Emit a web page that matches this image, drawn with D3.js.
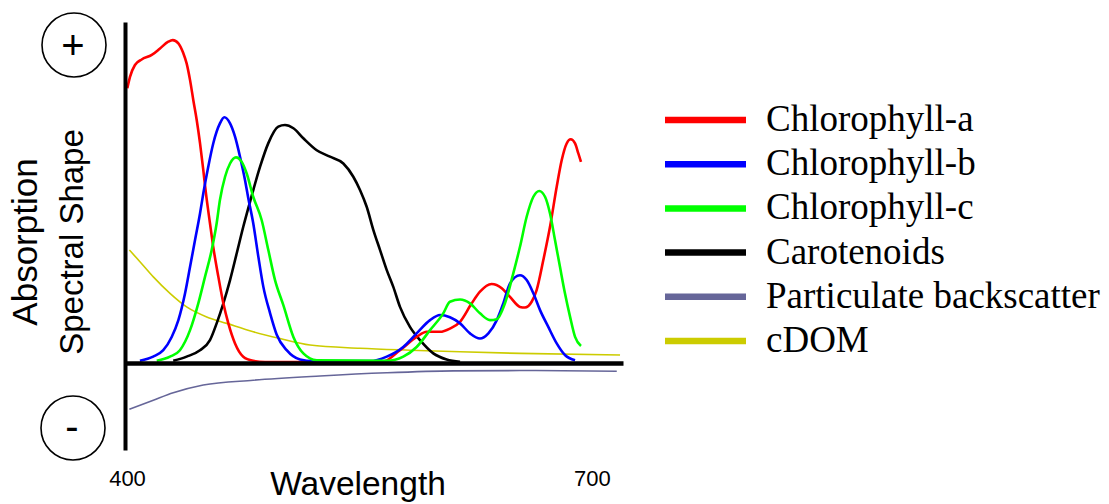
<!DOCTYPE html>
<html>
<head>
<meta charset="utf-8">
<script src="https://cdn.jsdelivr.net/npm/d3@7"></script>
<style>
  html, body { margin: 0; padding: 0; background: #ffffff; }
  svg { display: block; }
</style>
</head>
<body>
<svg id="chart" width="1109" height="504"></svg>
<script>
// ---- data (wavelength nm, relative absorption shape) ----
const seriesNames = ["Chlorophyll-a", "Chlorophyll-b", "Chlorophyll-c", "Carotenoids", "Particulate backscatter", "cDOM"];
const seriesColors = ["#ff0000", "#0000ff", "#00ff00", "#000000", "#666699", "#cccc00"];
const xTickLabels = [400, 700];

const chlA = [
  [401.5,85.1],[403.2,88.6],[406.4,92.3],[410.7,94.0],[417.2,95.4],[422.5,97.4],[427.8,99.5],[430.7,100],
  [434.3,99.0],[437.5,95.9],[439.6,92.8],[441.8,87.6],[443.9,81.4],[446.1,75.2],[448.2,68.1],[450.3,59.8],
  [452.0,52.6],[454.6,43.3],[456.7,36.0],[460.0,26.7],[463.2,18.5],[466.4,12.3],[470.7,6.1],[476.0,2.0],
  [482.4,0.7],[490,0.3],[530,0.3],[565.8,0.5],[576.7,4.0],[587.4,8.1],[593.9,9.7],[602.4,9.7],[608.8,10.7],
  [615.3,12.8],[622.8,18.5],[628.1,22.1],[635.6,24.5],[642.1,23.2],[647.4,20.5],[653.8,17.4],[657.0,17.2],
  [661.3,19.0],[664.5,22.6],[668.8,31.9],[673.1,42.2],[677.4,54.6],[680.6,62.8],[683.8,68.0],[686.4,69.3],
  [689.2,68.0],[691.3,64.9],[693.0,62.3]
];
const chlB = [
  [409.6,0.7],[418.1,2.0],[424.6,4.0],[430.0,8.1],[434.3,13.3],[438.6,21.6],[441.8,29.8],[445.0,38.1],
  [448.2,46.3],[450.3,52.5],[453.5,60.8],[456.7,68.0],[461.0,74.2],[463.8,76.1],[467.5,74.2],[470.7,70.1],
  [473.9,63.9],[477.1,56.7],[479.2,51.1],[482.4,43.3],[485.7,32.9],[488.9,23.6],[493.2,15.5],[497.5,8.8],
  [503.9,4.0],[512.5,1.1],[520.8,0.6],[557.4,0.6],[568.2,2.0],[578.8,5.0],[587.4,9.2],[596.0,13.3],
  [602.4,14.9],[608.8,14.2],[615.3,12.3],[621.7,9.2],[628.1,7.6],[633.5,9.2],[638.9,13.3],[643.1,18.5],
  [647.4,24.7],[653.8,27.2],[658.1,25.7],[662.4,21.6],[666.7,16.4],[672.0,11.2],[677.4,6.1],[682.7,2.5],
  [689.2,0.9]
];
const chlC = [
  [420.4,0.7],[428.9,2.0],[435.3,4.0],[441.8,10.2],[447.1,18.5],[451.4,26.7],[455.7,35.0],[458.9,43.3],
  [461.0,50.5],[464.3,57.7],[467.5,61.8],[471.3,63.7],[475.0,62.3],[478.2,58.7],[482.4,51.5],[487.8,44.3],
  [492.1,35.0],[496.4,25.7],[501.7,18.0],[508.2,8.1],[514.6,3.0],[523.2,0.9],[568.2,0.7],[578.8,2.0],
  [587.4,5.0],[596.0,10.2],[604.5,15.4],[608.8,19.0],[615.3,19.7],[621.7,18.5],[628.1,15.4],[634.5,13.3],
  [638.9,13.6],[644.2,18.6],[649.5,27.8],[653.8,36.0],[658.1,45.3],[662.4,51.5],[666.2,53.3],[669.9,51.5],
  [673.1,46.3],[676.3,38.1],[679.5,29.8],[682.7,21.6],[686.0,14.3],[689.2,8.1],[693.0,5.3]
];
const carot = [
  [431.0,0.7],[439.6,2.0],[448.2,4.0],[454.6,7.1],[458.9,12.3],[463.2,18.5],[467.5,25.7],[471.8,34.0],
  [476.0,42.2],[481.0,51.1],[486.8,60.8],[492.1,68.1],[498.5,73.2],[502.8,73.7],[508.2,72.7],[514.6,69.6],
  [523.2,65.9],[531.7,63.9],[540.3,61.8],[546.7,57.7],[551.0,53.6],[555.3,48.4],[559.6,41.2],[563.9,35.0],
  [568.2,28.8],[572.4,23.6],[576.7,17.4],[583.1,11.2],[589.6,7.1],[598.1,3.0],[606.7,1.1],[615.3,0.4]
];
const backscatter = [
  [402.8,-14.3],[418.2,-11.5],[431.0,-9.2],[450.3,-6.8],[482.4,-5.3],[525.3,-4.0],[568.2,-3.0],
  [611.0,-2.4],[653.8,-2.3],[716.0,-2.5]
];
const cdom = [
  [402.8,35.0],[409.6,31.4],[418.2,26.7],[428.9,21.6],[439.6,17.4],[452.5,14.3],[465.4,12.3],[482.4,9.7],
  [499.6,7.6],[518.9,5.6],[551.0,4.6],[583.1,4.0],[615.3,3.5],[653.8,3.0],[718.1,2.5]
];
const allSeries = [chlA, chlB, chlC, carot, backscatter, cdom];
const seriesWidths = [2.6, 2.6, 2.6, 2.6, 1.6, 1.6];

// ---- layout ----
const svg = d3.select("#chart");
const x = d3.scaleLinear().domain([400, 720]).range([125, 623]);
const y = d3.scaleLinear().domain([-26.9, 105.6]).range([450, 22]);

// curves (drawn first, axes on top)
const line = d3.line().x(d => x(d[0])).y(d => y(d[1])).curve(d3.curveMonotoneX);
const order = [5, 4, 3, 0, 1, 2];
order.forEach(i => {
  svg.append("path")
    .datum(allSeries[i])
    .attr("d", line)
    .attr("fill", "none")
    .attr("stroke", seriesColors[i])
    .attr("stroke-width", seriesWidths[i])
    .attr("stroke-linejoin", "round");
});

// x axis (line at zero, labels far below)
const xAxis = d3.axisBottom(x).tickValues(xTickLabels).tickSize(0).tickPadding(107).tickSizeOuter(0);
const gx = svg.append("g").attr("transform", `translate(0,${y(0)})`).call(xAxis);
gx.select(".domain").attr("stroke", "#000").attr("stroke-width", 4.5);
gx.selectAll(".tick text")
  .attr("font-family", "Liberation Sans, Arial, sans-serif")
  .attr("font-size", 22)
  .attr("fill", "#000")
  .attr("dx", (d, i) => i === 0 ? 2 : 0);

// y axis (plain line)
const yAxis = d3.axisLeft(y).tickValues([]).tickSizeOuter(0);
const gy = svg.append("g").attr("transform", `translate(${x(400)},0)`).call(yAxis);
gy.select(".domain").attr("stroke", "#000").attr("stroke-width", 4);

// axis titles
svg.append("text")
  .attr("x", 358).attr("y", 495)
  .attr("text-anchor", "middle")
  .attr("font-family", "Liberation Sans, Arial, sans-serif")
  .attr("font-size", 33.5)
  .attr("fill", "#000")
  .text("Wavelength");

const yTitle = svg.append("g").attr("transform", "translate(37,242) rotate(-90)");
yTitle.append("text")
  .attr("x", 0).attr("y", 0)
  .attr("text-anchor", "middle")
  .attr("font-family", "Liberation Sans, Arial, sans-serif")
  .attr("font-size", 35)
  .attr("fill", "#000")
  .text("Absorption");
yTitle.append("text")
  .attr("x", 0).attr("y", 46)
  .attr("text-anchor", "middle")
  .attr("font-family", "Liberation Sans, Arial, sans-serif")
  .attr("font-size", 33)
  .attr("fill", "#000")
  .text("Spectral Shape");

// +/- circles
const signs = [{s: "+", cx: 74, cy: 45, dy: 14}, {s: "-", cx: 73, cy: 428, dy: 12}];
signs.forEach(d => {
  svg.append("circle").attr("cx", d.cx).attr("cy", d.cy).attr("r", 32)
    .attr("fill", "none").attr("stroke", "#000").attr("stroke-width", 1.6);
  svg.append("text").attr("x", d.cx - 1).attr("y", d.cy + d.dy)
    .attr("text-anchor", "middle")
    .attr("font-family", "Liberation Sans, Arial, sans-serif")
    .attr("font-size", 40)
    .attr("fill", "#000")
    .text(d.s);
});

// legend
const legend = svg.append("g").attr("transform", "translate(665,120)");
seriesNames.forEach((name, i) => {
  const g = legend.append("g").attr("transform", `translate(0,${i * 44.2})`);
  g.append("line").attr("x1", 0).attr("x2", 81).attr("y1", 0).attr("y2", 0)
    .attr("stroke", seriesColors[i]).attr("stroke-width", 6.5);
  g.append("text").attr("x", 101).attr("y", 11)
    .attr("font-family", "Liberation Serif, Times New Roman, serif")
    .attr("font-size", 37)
    .attr("fill", "#000")
    .text(name);
});
</script>
</body>
</html>
